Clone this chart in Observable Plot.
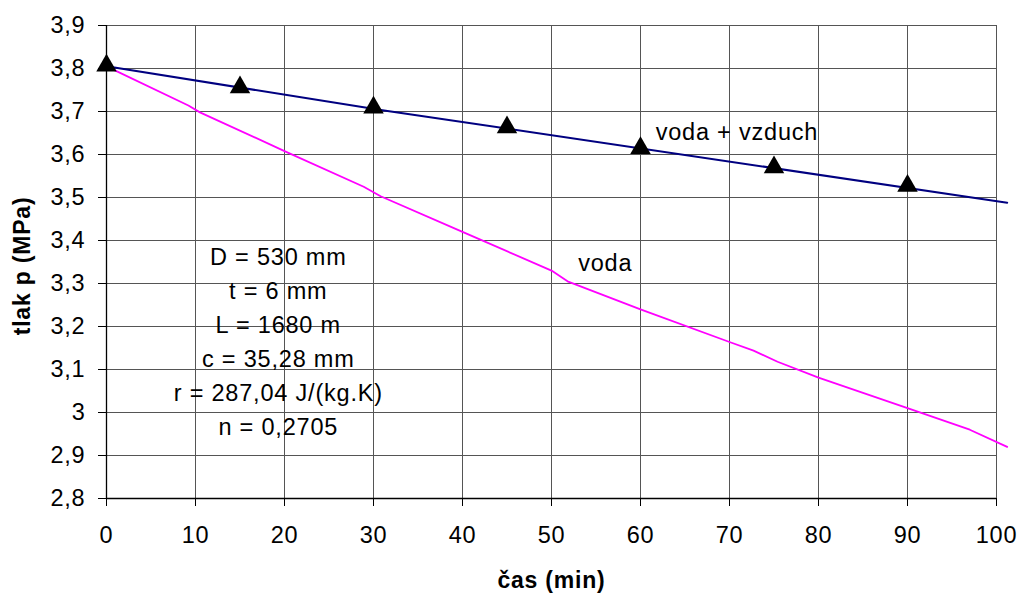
<!DOCTYPE html>
<html>
<head>
<meta charset="utf-8">
<script src="https://cdn.jsdelivr.net/npm/d3@7"></script>
<script src="https://cdn.jsdelivr.net/npm/@observablehq/plot@0.6"></script>
<style>
  html, body { margin: 0; padding: 0; background: white; }
  #chart { width: 1022px; height: 594px; }
</style>
</head>
<body>
<div id="chart"></div>
<script>
// Measured points (voda + vzduch)
const timeMin = [0, 15, 30, 45, 60, 75, 90];
const pressureAirWater = [3.807, 3.756, 3.709, 3.663, 3.615, 3.57, 3.527];
// Trend line for voda + vzduch
const fitX = [0, 31, 101.2];
const fitY = [3.805, 3.703, 3.488];
// Curve for voda
const waterX = [0, 9.2, 10.5, 20, 28.9, 30.8, 40, 50, 51.8, 60, 70, 72.7, 75.4, 80, 90, 97, 101.2];
const waterY = [3.805, 3.714, 3.698, 3.608, 3.525, 3.503, 3.42, 3.33, 3.305, 3.24, 3.164, 3.144, 3.118, 3.081, 3.01, 2.96, 2.92];
// Ticks
const xTicks = [0, 10, 20, 30, 40, 50, 60, 70, 80, 90, 100];
const yTicks = [2.8, 2.9, 3.0, 3.1, 3.2, 3.3, 3.4, 3.5, 3.6, 3.7, 3.8, 3.9];
// Texts
const params = ["D = 530 mm", "t = 6 mm", "L = 1680 m", "c = 35,28 mm", "r = 287,04 J/(kg.K)", "n = 0,2705"];
const seriesLabels = [
  {x: 61.7, y: 3.652, text: "voda + vzduch"},
  {x: 53, y: 3.346, text: "voda"}
];
const paramsPos = {x: 19.3, y: 3.17};
const xTitle = "čas (min)";
const yTitle = "tlak p (MPa)";

const fitData = fitX.map((x, i) => ({x, y: fitY[i]}));
const waterData = waterX.map((x, i) => ({x, y: waterY[i]}));
const pointData = timeMin.map((x, i) => ({x, y: pressureAirWater[i]}));
const fmtY = d => String(+d.toFixed(1)).replace(".", ",");
const FS = 23.5;

const chart = Plot.plot({
  width: 1022,
  height: 594,
  marginLeft: 106,
  marginRight: 26,
  marginTop: 25,
  marginBottom: 96,
  x: {domain: [0, 100]},
  y: {domain: [2.8, 3.9]},
  style: {fontFamily: "'Liberation Sans', Arial, sans-serif", fontSize: FS + "px", background: "white", color: "black"},
  marks: [
    Plot.gridX(xTicks, {stroke: "#555", strokeOpacity: 1, strokeWidth: 1}),
    Plot.gridY(yTicks, {stroke: "#555", strokeOpacity: 1, strokeWidth: 1}),
    Plot.axisX(xTicks, {tickSize: 8, tickPadding: 20, tickFormat: d => String(d), label: null, fontSize: FS, stroke: "black"}),
    Plot.axisY(yTicks, {tickSize: 8, tickPadding: 13, tickFormat: fmtY, label: null, fontSize: FS, stroke: "black"}),
    Plot.ruleX([0], {stroke: "black", strokeWidth: 1.3}),
    Plot.ruleY([2.8], {stroke: "black", strokeWidth: 1.3}),
    Plot.line(waterData, {x: "x", y: "y", stroke: "#ff00ff", strokeWidth: 1.8}),
    Plot.line(fitData, {x: "x", y: "y", stroke: "#000080", strokeWidth: 2}),
    Plot.dot(pointData, {x: "x", y: "y", symbol: "triangle", r: 7.6, fill: "black", stroke: "none"}),
    Plot.text(seriesLabels, {x: "x", y: "y", text: "text", textAnchor: "start", fontSize: FS, fill: "black", ariaLabel: "series-labels"}),
    Plot.text([params.join("\n")], {x: () => paramsPos.x, y: () => paramsPos.y, text: d => d, textAnchor: "middle", lineAnchor: "middle", lineHeight: 34 / FS, fontSize: FS, fill: "black", ariaLabel: "params"}),
    Plot.text([xTitle], {frameAnchor: "bottom", dy: 82, textAnchor: "middle", lineAnchor: "middle", text: d => d, fontSize: 23, fontWeight: "bold", fill: "black", ariaLabel: "axis-title"}),
    Plot.text([yTitle], {frameAnchor: "left", dx: -84, dy: 4, rotate: -90, textAnchor: "middle", lineAnchor: "middle", text: d => d, fontSize: 23, fontWeight: "bold", fill: "black", ariaLabel: "axis-title"})
  ]
});

document.getElementById("chart").appendChild(chart);
d3.select(chart).selectAll("text").style("letter-spacing", "0.8px");
d3.select(chart).selectAll('g[aria-label="axis-title"] text').style("letter-spacing", "1.5px");
</script>
</body>
</html>
